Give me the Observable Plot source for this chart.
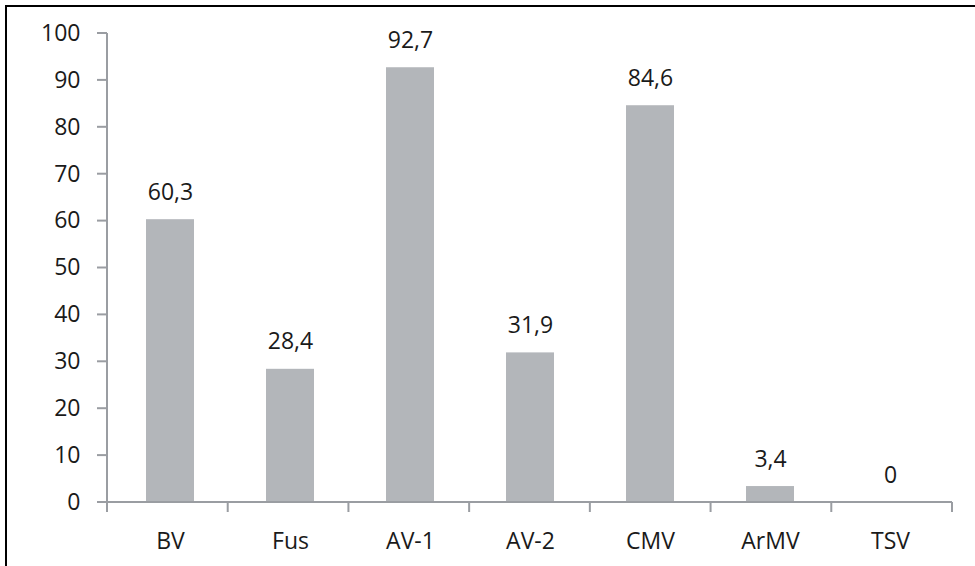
<!DOCTYPE html>
<html>
<head>
<meta charset="utf-8">
<script src="https://cdn.jsdelivr.net/npm/d3@7"></script>
<script src="https://cdn.jsdelivr.net/npm/@observablehq/plot@0.6"></script>
<style>
  html, body { margin: 0; padding: 0; background: #fff; }
  #wrap { position: relative; width: 975px; height: 566px; overflow: hidden; }
  #frame { position: absolute; left: 5px; top: 5px; right: -10px; bottom: -10px;
           border-top: 2px solid #000; border-left: 2px solid #000; pointer-events: none; }
</style>
</head>
<body>
<div id="wrap"><div id="chart"></div><div id="frame"></div></div>
<script>
const categories = ["BV", "Fus", "AV-1", "AV-2", "CMV", "ArMV", "TSV"];
const values = [60.3, 28.4, 92.7, 31.9, 84.6, 3.4, 0];
const valueLabels = ["60,3", "28,4", "92,7", "31,9", "84,6", "3,4", "0"];
const yTicks = [0, 10, 20, 30, 40, 50, 60, 70, 80, 90, 100];

const data = categories.map((c, i) => ({cat: c, value: values[i], label: valueLabels[i]}));

const gray = "#9a9da2";
const barColor = "#b3b6ba";
const textColor = "#1a1a1a";

function axisLines(index, scales, vals, dims) {
  const {y} = scales;
  const x0 = dims.marginLeft, x1 = dims.width - dims.marginRight;
  const step = (x1 - x0) / categories.length;
  const g = d3.create("svg:g").attr("stroke", gray).attr("stroke-width", 2).attr("fill", "none");
  const y0 = y(0), yTop = y(d3.max(yTicks));
  g.append("line").attr("x1", x0).attr("x2", x0).attr("y1", yTop).attr("y2", y0 + 10);
  for (const t of yTicks) {
    g.append("line").attr("x1", x0 - 10).attr("x2", x0).attr("y1", y(t)).attr("y2", y(t));
  }
  g.append("line").attr("x1", x0 - 10).attr("x2", x1).attr("y1", y0).attr("y2", y0);
  for (let i = 0; i <= categories.length; ++i) {
    const bx = x0 + i * step;
    g.append("line").attr("x1", bx).attr("x2", bx).attr("y1", y0).attr("y2", y0 + 10);
  }
  return g.node();
}

const plot = Plot.plot({
  width: 975,
  height: 566,
  marginLeft: 107,
  marginRight: 23,
  marginTop: 33,
  marginBottom: 64,
  style: {fontFamily: "'Open Sans', sans-serif", fontSize: "23px", color: textColor, background: "transparent"},
  x: {domain: categories, padding: 0, label: null},
  y: {domain: [0, 100], label: null},
  marks: [
    Plot.barY(data, {x: "cat", y: "value", fill: barColor, insetLeft: 36, insetRight: 36}),
    Plot.axisY({ticks: yTicks, tickSize: 0, tickPadding: 27, label: null, fill: textColor, fontSize: 23}),
    Plot.axisX({tickSize: 0, tickPadding: 30, label: null, fill: textColor, fontSize: 23}),
    axisLines,
    Plot.text(data, {x: "cat", y: "value", text: "label", lineAnchor: "bottom", dy: -20, fill: textColor, fontSize: 23})
  ]
});
document.getElementById("chart").appendChild(plot);
</script>
</body>
</html>
